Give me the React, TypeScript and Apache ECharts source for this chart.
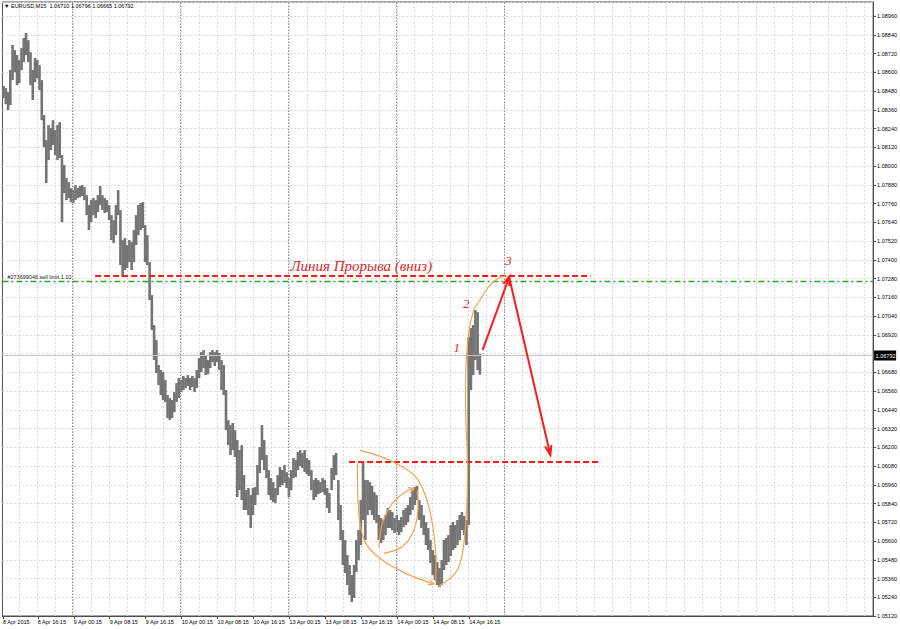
import React, { useEffect, useRef } from "react";
import * as echarts from "echarts";

// ---- header / labels ----
const SYMBOL = "EURUSD,M15";
const HEADER_OHLC = ["1.06710", "1.06796", "1.06665", "1.06792"];
const FIRST_LABEL = "8 Apr 2015";
const TICK_LABELS = [
  "8 Apr 16:15", "9 Apr 00:15", "9 Apr 08:15", "9 Apr 16:15", "10 Apr 00:15",
  "10 Apr 08:15", "10 Apr 16:15", "13 Apr 00:15", "13 Apr 08:15", "13 Apr 16:15",
  "14 Apr 00:15", "14 Apr 08:15", "14 Apr 16:15",
];
const SEPARATORS = ["9 Apr 00:00", "10 Apr 00:00", "13 Apr 00:00", "14 Apr 00:00", "15 Apr 00:00"];
const TRADING_DAYS = [8, 9, 10, 13, 14, 15, 16, 17, 20];
const START_MINUTE = 8 * 60 + 30;
const N_BARS = 775;

// ---- price axis ----
const Y_MIN = 1.0512;
const Y_MAX = 1.0905;
const Y_STEP = 0.0012;

// ---- half-hour highs / lows (2 M15 bars each) ----
const HIGHS = [
  1.08512, 1.08499, 1.08473, 1.08614, 1.08774, 1.08742, 1.0871, 1.08678, 1.08755, 1.08819,
  1.08851, 1.08806, 1.08729, 1.08614, 1.08691, 1.08678, 1.08646, 1.0855, 1.08326, 1.08166,
  1.08262, 1.08243, 1.08294, 1.0823, 1.08262, 1.08281, 1.0807, 1.08006, 1.07923, 1.07897,
  1.07859, 1.07846, 1.07878, 1.07859, 1.07872, 1.07878, 1.07865, 1.07814, 1.0775, 1.07782,
  1.07795, 1.07782, 1.07814, 1.07872, 1.07814, 1.07795, 1.07782, 1.0775, 1.07686, 1.07654,
  1.0775, 1.07846, 1.07718, 1.07526, 1.07539, 1.07494, 1.07526, 1.07513, 1.0759, 1.07686,
  1.0775, 1.07763, 1.07769, 1.07622, 1.07558, 1.07385, 1.07174, 1.06982, 1.06886, 1.06726,
  1.06694, 1.06681, 1.0663, 1.06534, 1.06515, 1.06502, 1.06553, 1.06611, 1.06643, 1.0663,
  1.06656, 1.06643, 1.06662, 1.06643, 1.06656, 1.06643, 1.06694, 1.06771, 1.06809, 1.06822,
  1.0679, 1.06758, 1.06809, 1.06822, 1.06809, 1.06822, 1.06803, 1.06758, 1.06726, 1.06566,
  1.06374, 1.06342, 1.06355, 1.0631, 1.06246, 1.06182, 1.06214, 1.06022, 1.05926, 1.05939,
  1.05894, 1.05939, 1.05945, 1.06086, 1.06201, 1.06342, 1.06246, 1.0615, 1.06054, 1.06003,
  1.05977, 1.05939, 1.06022, 1.06073, 1.06054, 1.06086, 1.06041, 1.06003, 1.06054, 1.06131,
  1.06118, 1.06169, 1.06182, 1.06163, 1.06182, 1.06131, 1.06118, 1.06054, 1.0599, 1.06003,
  1.0599, 1.05977, 1.06003, 1.0599, 1.05939, 1.05907, 1.06067, 1.0615, 1.06163, 1.0599,
  1.0583, 1.0567, 1.05606, 1.0551, 1.05446, 1.05382, 1.05446, 1.05606, 1.0567, 1.05862,
  1.06099, 1.0599, 1.0599, 1.05977, 1.05952, 1.05913, 1.05894, 1.05766, 1.05747, 1.05734,
  1.05766, 1.05811, 1.05798, 1.05785, 1.05747, 1.05766, 1.05734, 1.05753, 1.05798, 1.05811,
  1.0583, 1.05881, 1.05926, 1.05945, 1.05952, 1.05862, 1.0583, 1.05766, 1.05721, 1.05683,
  1.05606, 1.05542, 1.0551, 1.05465, 1.05427, 1.05478, 1.05606, 1.05619, 1.05638, 1.05702,
  1.05721, 1.05702, 1.05734, 1.05766, 1.05785, 1.0576, 1.05734, 1.06905, 1.06963, 1.06982,
  1.07078, 1.07065, 1.06796,
];
const LOWS = [
  1.08435, 1.08396, 1.08358, 1.0839, 1.0855, 1.08601, 1.08518, 1.08531, 1.08614, 1.08665,
  1.0871, 1.08665, 1.08518, 1.08422, 1.08537, 1.08563, 1.08486, 1.08294, 1.08121, 1.07891,
  1.08038, 1.08102, 1.08134, 1.0807, 1.08038, 1.08051, 1.07641, 1.07827, 1.07782, 1.07795,
  1.07769, 1.07763, 1.07782, 1.07795, 1.07801, 1.07808, 1.07782, 1.07686, 1.0759, 1.07641,
  1.07686, 1.07667, 1.07705, 1.0775, 1.07718, 1.07699, 1.07705, 1.07654, 1.07526, 1.07507,
  1.07558, 1.07686, 1.07366, 1.07289, 1.07334, 1.07347, 1.07385, 1.07334, 1.07385, 1.07494,
  1.07558, 1.0759, 1.07603, 1.07385, 1.07366, 1.07142, 1.0695, 1.06758, 1.06675, 1.06598,
  1.06534, 1.06502, 1.06489, 1.06387, 1.06374, 1.06387, 1.06425, 1.06489, 1.06515, 1.06553,
  1.06566, 1.06579, 1.06592, 1.06566, 1.06585, 1.06553, 1.06579, 1.06643, 1.06681, 1.06707,
  1.06662, 1.06668, 1.06707, 1.06745, 1.0672, 1.06745, 1.06694, 1.06566, 1.06534, 1.0631,
  1.06214, 1.0615, 1.06182, 1.06137, 1.05881, 1.05926, 1.05862, 1.05798, 1.05798, 1.05766,
  1.05683, 1.05766, 1.0583, 1.05894, 1.06035, 1.06118, 1.06054, 1.06003, 1.05894, 1.05862,
  1.05849, 1.05843, 1.05894, 1.05945, 1.05958, 1.05971, 1.05939, 1.05881, 1.05926, 1.06003,
  1.06009, 1.06054, 1.0608, 1.06067, 1.06041, 1.06028, 1.06016, 1.05926, 1.05862, 1.05881,
  1.059, 1.05907, 1.05913, 1.05894, 1.05811, 1.05779, 1.05926, 1.0599, 1.06022, 1.05734,
  1.05606, 1.05446, 1.05395, 1.05318, 1.05254, 1.05209, 1.05235, 1.05401, 1.05478, 1.05574,
  1.05734, 1.05606, 1.05766, 1.05798, 1.05766, 1.05734, 1.05715, 1.05606, 1.05587, 1.05606,
  1.05638, 1.05683, 1.05683, 1.0567, 1.05651, 1.05657, 1.05638, 1.05657, 1.05689, 1.05702,
  1.05721, 1.05766, 1.05798, 1.0583, 1.05862, 1.05734, 1.05683, 1.05638, 1.05574, 1.05542,
  1.05459, 1.05382, 1.0535, 1.05318, 1.05305, 1.05318, 1.05414, 1.05446, 1.05465, 1.05504,
  1.05542, 1.05555, 1.05574, 1.05606, 1.0567, 1.05638, 1.05574, 1.05702, 1.06566, 1.06662,
  1.06758, 1.06694, 1.06665,
];

// ---- orders / drawn lines ----
const BID = 1.06792;
const SELL_LIMIT = 1.07262;
const SELL_LIMIT_TEXT = "#273699046 sell limit 1.10";
const BREAKOUT_LINE = { from: 82, to: 523, price: 1.07298 };
const TARGET_LINE = { from: 308, to: 532, price: 1.06106 };
const BREAKOUT_TEXT = { text: "Линия Прорыва (вниз)", at: [255.8, 1.0736] };
const NUMBER_LABELS = [
  { text: "1", at: [403.9, 1.06841] },
  { text: "2", at: [412.3, 1.07118] },
  { text: "3", at: [450.0, 1.07398] },
];
const ARROW_UP = [[426.9, 1.06822], [450.9, 1.07296]];
const ARROW_DOWN = [[450.9, 1.07277], [487.2, 1.0615]];
const CURVE_A = [[317.6, 1.06182], [343.6, 1.06118], [367.3, 1.06011], [379.1, 1.05819], [385.0, 1.05542], [385.0, 1.05339]];
const CURVE_B = [[315.5, 1.06097], [317.0, 1.05755], [322.9, 1.05585], [337.6, 1.05478], [358.4, 1.05393], [383.5, 1.05324]];
const CURVE_C = [[334.7, 1.05555], [337.6, 1.05713], [346.5, 1.05841], [358.4, 1.05915], [365.8, 1.05937]];
const CURVE_D = [[339.1, 1.05521], [355.4, 1.05563], [365.8, 1.0567], [369.3, 1.05798], [368.7, 1.05926]];
const CURVE_E = [
  [387.9, 1.05312], [402.1, 1.05389], [408.3, 1.05497], [411.9, 1.05715], [413.6, 1.06054],
  [411.9, 1.06394], [411.9, 1.06675], [414.5, 1.06931], [419.0, 1.07078], [423.4, 1.0713],
  [432.3, 1.07226], [441.1, 1.07283], [449.1, 1.07299],
];

const pad = (n: number) => (n < 10 ? "0" + n : "" + n);
function buildCategories(): string[] {
  const out: string[] = [];
  let d = 0;
  let m = START_MINUTE;
  while (out.length < N_BARS) {
    out.push(`${TRADING_DAYS[d]} Apr ${pad(Math.floor(m / 60))}:${pad(m % 60)}`);
    m += 15;
    if (m >= 1440) {
      m = 0;
      d++;
    }
  }
  return out;
}

const SMALL_FONT = '"Liberation Sans", Arial, sans-serif';
const ORANGE = "#f6a24f";
const RED = "#ff1a1a";
const GREEN = "#1faa1f";

export default function App() {
  const ref = useRef<HTMLDivElement>(null);
  useEffect(() => {
    if (!ref.current) return;
    const chart = echarts.init(ref.current, null, { renderer: "svg" });
    const cats = buildCategories();
    const labelSet = new Set(TICK_LABELS);
    const showLabel = (i: number, v: string) => i === 0 || labelSet.has(v);
    const priceData = HIGHS.map((h, k) => [2 * k, h, LOWS[k]]);
    const segLine = (from: number, to: number, price: number, lineStyle: any) => [
      { coord: [cats[from], price], lineStyle },
      { coord: [cats[to], price], lineStyle },
    ];
    const redDash = { color: RED, type: [6, 3], width: 2, opacity: 1 };

    const option: any = {
      animation: false,
      backgroundColor: "#ffffff",
      title: {
        text: `▼ ${SYMBOL}  ${HEADER_OHLC.join(" ")}`,
        left: 4,
        top: 3,
        padding: 0,
        textStyle: { fontSize: 5.5, fontWeight: "normal", color: "#000", fontFamily: SMALL_FONT },
      },
      grid: {
        left: 2, right: 24, top: 2, bottom: 13,
        show: true, borderColor: "#4d4d4d", borderWidth: 1, backgroundColor: "#fff",
      },
      xAxis: {
        type: "category",
        data: cats,
        boundaryGap: true,
        axisLine: { show: true, lineStyle: { color: "#4d4d4d" } },
        axisTick: { show: true, alignWithLabel: true, interval: showLabel, length: 3, lineStyle: { color: "#4d4d4d" } },
        axisLabel: {
          interval: showLabel,
          formatter: (v: string, i: number) => (i === 0 ? FIRST_LABEL : v),
          align: "left",
          fontSize: 5.5,
          color: "#000",
          margin: 3,
          fontFamily: SMALL_FONT,
        },
        splitLine: {
          show: true,
          interval: (i: number) => i % 16 === 15,
          lineStyle: { color: "#d9d9d9", type: [2, 2], width: 1 },
        },
      },
      yAxis: {
        type: "value",
        position: "right",
        min: Y_MIN,
        max: Y_MAX,
        interval: Y_STEP,
        axisLine: { show: true, lineStyle: { color: "#4d4d4d" } },
        axisTick: { show: true, length: 3, lineStyle: { color: "#4d4d4d" } },
        axisLabel: {
          fontSize: 5.5,
          color: "#000",
          margin: 4,
          fontFamily: SMALL_FONT,
          showMaxLabel: false,
          formatter: (v: number) => {
            const r = v / Y_STEP;
            if (Math.abs(r - Math.round(r)) > 1e-4) return "";
            if (Math.abs(v - BID) < 0.0004) return "";
            return v.toFixed(5);
          },
        },
        splitLine: { show: true, lineStyle: { color: "#d9d9d9", type: [2, 2], width: 1 } },
      },
      series: [
        {
          type: "line",
          name: "levels",
          data: [],
          silent: true,
          z: 2,
          markLine: {
            silent: true,
            symbol: ["none", "none"],
            animation: false,
            label: { show: false },
            emphasis: { disabled: true },
            data: [
              ...SEPARATORS.map((n) => ({ xAxis: n, lineStyle: { color: "#8f8f8f", type: [1.5, 1.5], width: 1, opacity: 1 } })),
              segLine(BREAKOUT_LINE.from, BREAKOUT_LINE.to, BREAKOUT_LINE.price, redDash),
              segLine(TARGET_LINE.from, TARGET_LINE.to, TARGET_LINE.price, redDash),
            ],
          },
        },
        {
          type: "custom",
          name: "EURUSD",
          data: priceData,
          encode: { x: 0, y: [1, 2] },
          z: 3,
          renderItem: (_p: any, api: any) => {
            const i = api.value(0);
            const a = api.coord([i, api.value(1)]);
            const b = api.coord([i + 1, api.value(2)]);
            const xc = (a[0] + b[0]) / 2;
            return {
              type: "rect",
              shape: { x: xc - 1.3, y: a[1], width: 2.6, height: Math.max(1, b[1] - a[1]) },
              style: { fill: "#747474" },
            };
          },
        },
        {
          type: "custom",
          name: "drawings",
          data: [[0, 1.07]],
          z: 5,
          clip: false,
          renderItem: (_p: any, api: any) => {
            const pt = (p: number[]) => {
              const i0 = Math.floor(p[0]);
              const f = p[0] - i0;
              const a = api.coord([i0, p[1]]);
              const b = api.coord([i0 + 1, p[1]]);
              return [a[0] + (b[0] - a[0]) * f, a[1]];
            };
            const children: any[] = [];
            const half = api.size([1, 0])[0] / 2;
            const fullLine = (price: number, style: any) => {
              const a = api.coord([0, price]);
              const b = api.coord([N_BARS - 1, price]);
              const y = Math.round(a[1]) + 0.5;
              children.push({
                type: "line",
                shape: { x1: a[0] - half, y1: y, x2: b[0] + half, y2: y },
                style,
              });
              return { x1: a[0] - half, x2: b[0] + half, y };
            };
            // bid line + price tag
            const bid = fullLine(BID, { stroke: "#c4c4c4", lineWidth: 1 });
            children.push({
              type: "rect",
              shape: { x: bid.x2 + 1, y: bid.y - 5, width: 22, height: 10 },
              style: { fill: "#000" },
            });
            children.push({
              type: "text", x: bid.x2 + 2.5, y: bid.y,
              style: { text: BID.toFixed(5), fill: "#fff", fontSize: 5.5, fontFamily: SMALL_FONT, align: "left", verticalAlign: "middle" },
            });
            // sell-limit order line
            const sl = fullLine(SELL_LIMIT, { stroke: GREEN, lineWidth: 1.3, lineDash: [6, 3, 2, 3] });
            children.push({
              type: "text", x: sl.x1 + 5, y: sl.y - 1.5,
              style: { text: SELL_LIMIT_TEXT, fill: "#222", fontSize: 5.5, fontFamily: SMALL_FONT, align: "left", verticalAlign: "bottom" },
            });

            const head = (from: number[], to: number[], color: string, len: number, spread: number, w: number) => {
              const ang = Math.atan2(to[1] - from[1], to[0] - from[0]);
              const p1 = [to[0] - len * Math.cos(ang - spread), to[1] - len * Math.sin(ang - spread)];
              const p2 = [to[0] - len * Math.cos(ang + spread), to[1] - len * Math.sin(ang + spread)];
              children.push({
                type: "polyline",
                shape: { points: [p1, to, p2] },
                style: { stroke: color, lineWidth: w, fill: null, lineJoin: "miter" },
              });
            };
            const curve = (pts: number[][], arrow: boolean) => {
              const P = pts.map(pt);
              children.push({
                type: "polyline",
                shape: { points: P, smooth: 0.35 },
                style: { stroke: ORANGE, lineWidth: 1.2, fill: null },
              });
              if (arrow) head(P[P.length - 2], P[P.length - 1], ORANGE, 6, 0.5, 1.2);
            };
            curve(CURVE_A, false);
            curve(CURVE_B, true);
            curve(CURVE_C, true);
            curve(CURVE_D, false);
            curve(CURVE_E, false);
            [ARROW_UP, ARROW_DOWN].forEach((ar) => {
              const a = pt(ar[0]);
              const b = pt(ar[1]);
              children.push({ type: "line", shape: { x1: a[0], y1: a[1], x2: b[0], y2: b[1] }, style: { stroke: RED, lineWidth: 2 } });
              head(a, b, RED, 10, 0.33, 2);
            });
            const bt = pt(BREAKOUT_TEXT.at);
            children.push({
              type: "text", x: bt[0], y: bt[1],
              style: {
                text: BREAKOUT_TEXT.text, fill: "#e02828", fontSize: 15, fontStyle: "italic",
                fontFamily: '"Liberation Serif", "DejaVu Serif", serif', align: "left", verticalAlign: "middle",
              },
            });
            NUMBER_LABELS.forEach((n) => {
              const p = pt(n.at);
              children.push({
                type: "text", x: p[0], y: p[1],
                style: {
                  text: n.text, fill: "#e02828", fontSize: 13, fontStyle: "italic",
                  fontFamily: '"Liberation Serif", "DejaVu Serif", serif', align: "center", verticalAlign: "middle",
                },
              });
            });
            return { type: "group", children };
          },
        },
      ],
    };
    chart.setOption(option);
    return () => chart.dispose();
  }, []);
  return <div ref={ref} style={{ position: "absolute", left: 0, top: 0, width: 900, height: 629 }} />;
}
